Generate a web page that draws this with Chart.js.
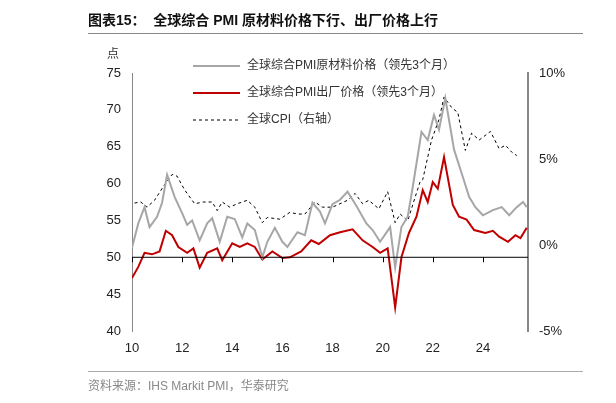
<!DOCTYPE html>
<html><head><meta charset="utf-8">
<script src="https://cdn.jsdelivr.net/npm/chart.js@4"></script>
<style>
body{margin:0;background:#fff;width:616px;height:403px;overflow:hidden;position:relative;font-family:"Liberation Sans","Noto Sans CJK SC",sans-serif}
#t{position:absolute;left:88px;top:9px;font-size:14px;font-weight:bold;color:#111;font-family:"Liberation Sans","Noto Sans CJK SC"}
#l1{position:absolute;left:88px;top:33px;width:495px;height:1px;background:#888}
#l2{position:absolute;left:88px;top:371px;width:495px;height:1px;background:#aaa}
#s{position:absolute;left:88px;top:376px;font-size:12px;color:#888}
canvas{position:absolute;left:0;top:0}
</style></head><body>
<canvas id="c" width="616" height="403"></canvas>
<div id="t">图表15：&nbsp;&nbsp;全球综合 PMI 原材料价格下行、出厂价格上行</div>
<div id="l1"></div><div id="l2"></div>
<div id="s">资料来源：IHS Markit PMI，华泰研究</div>
<script>
const rawX=[2010.0,2010.25,2010.5,2010.7,2011.0,2011.2,2011.4,2011.7,2012.0,2012.2,2012.4,2012.7,2013.0,2013.2,2013.5,2013.8,2014.1,2014.4,2014.6,2014.9,2015.2,2015.4,2015.7,2016.0,2016.2,2016.6,2016.9,2017.2,2017.5,2017.7,2018.0,2018.3,2018.6,2018.95,2019.35,2019.6,2019.9,2020.3,2020.5,2020.75,2021.0,2021.2,2021.55,2021.8,2022.05,2022.25,2022.5,2022.85,2023.2,2023.45,2023.7,2024.0,2024.4,2024.75,2025.05,2025.35,2025.6,2025.75];
const rawY=[51.3,54.6,56.8,54.1,55.5,57.4,61.2,58.2,56.0,54.4,55.0,52.3,54.6,55.3,52.1,55.5,55.2,52.7,54.6,53.7,50.0,52.1,54.0,52.1,51.4,53.4,53.0,57.4,56.2,54.6,57.2,57.8,58.9,57.0,54.6,53.7,52.1,54.1,48.6,54.1,55.5,59.5,67.0,65.9,69.3,67.3,71.6,64.6,60.9,58.2,56.8,55.7,56.4,56.8,55.7,56.8,57.5,56.8];
const outX=[2010.0,2010.25,2010.5,2010.8,2011.1,2011.35,2011.6,2011.85,2012.2,2012.45,2012.7,2013.0,2013.4,2013.6,2014.0,2014.3,2014.6,2014.9,2015.2,2015.6,2016.0,2016.3,2016.75,2017.15,2017.45,2017.9,2018.3,2018.8,2019.2,2019.6,2019.9,2020.2,2020.5,2020.75,2021.05,2021.35,2021.6,2021.8,2022.0,2022.2,2022.45,2022.8,2023.05,2023.35,2023.65,2024.1,2024.4,2024.65,2025.0,2025.3,2025.5,2025.75];
const outY=[47.2,48.7,50.6,50.4,50.8,53.6,53.0,51.4,50.6,51.2,48.6,50.6,51.2,49.6,51.9,51.4,51.9,51.4,49.7,50.8,49.9,50.0,50.8,52.3,51.8,53.0,53.4,53.8,52.3,51.4,50.6,51.2,43.2,50.0,53.3,55.5,59.1,57.5,60.2,59.3,63.6,57.1,55.5,55.1,53.7,53.3,53.6,52.8,52.1,53.0,52.6,54.0];
const cpiX=[2010.1,2010.35,2010.6,2010.9,2011.25,2011.6,2011.8,2012.1,2012.5,2012.85,2013.2,2013.4,2013.6,2013.9,2014.2,2014.6,2014.9,2015.2,2015.4,2015.9,2016.3,2016.6,2016.9,2017.3,2017.6,2018.0,2018.3,2018.6,2018.9,2019.2,2019.45,2019.85,2020.2,2020.5,2020.7,2021.0,2021.3,2021.5,2021.6,2021.95,2022.25,2022.45,2022.75,2023.0,2023.3,2023.55,2023.85,2024.3,2024.65,2024.9,2025.15,2025.35];
const cpiY=[2.44,2.5,2.2,2.6,3.4,4.1,4.0,3.2,2.4,2.5,2.5,2.0,2.5,2.2,2.4,2.6,2.2,1.3,1.6,1.5,1.9,1.8,1.8,2.5,2.2,2.2,2.4,2.6,3.0,2.4,2.6,2.1,3.1,1.3,1.8,1.4,2.8,3.7,3.8,6.1,7.3,8.6,8.0,7.7,5.5,6.5,6.1,6.6,5.6,5.8,5.4,5.2];
const xTicks=[2010,2012,2014,2016,2018,2020,2022,2024];
const labels=['全球综合PMI原材料价格（领先3个月）','全球综合PMI出厂价格（领先3个月）','全球CPI（右轴）'];
const pts=(xs,ys)=>xs.map((x,i)=>({x,y:ys[i]}));
const font={family:"'Liberation Sans','Noto Sans CJK SC'",size:13};
const overlay={id:'ov',afterDatasetsDraw(ch){
  const c=ch.ctx,x=ch.scales.x,y=ch.scales.y;
  const y50=y.getPixelForValue(50);
  c.save();c.strokeStyle='#000';c.lineWidth=1;
  c.beginPath();c.moveTo(x.left,y50);c.lineTo(x.right,y50);
  xTicks.forEach(t=>{const px=Math.round(x.getPixelForValue(t))+.5;c.moveTo(px,y50);c.lineTo(px,y50+5);});
  c.stroke();
  c.font="12px 'Liberation Sans','Noto Sans CJK SC'";c.fillStyle='#333';c.textBaseline='middle';
  c.fillText('点',107,55);
  ch.data.datasets.forEach((d,i)=>{const yy=66+i*27;c.strokeStyle=d.borderColor;c.lineWidth=d.borderWidth;c.setLineDash(d.borderDash||[]);
    c.beginPath();c.moveTo(193,yy);c.lineTo(240,yy);c.stroke();c.setLineDash([]);c.fillStyle='#333';c.fillText(d.label,247,yy);});
  c.restore();}};
new Chart(document.getElementById('c'),{type:'line',
 data:{datasets:[
  {label:labels[0],data:pts(rawX,rawY),borderColor:'#a6a6a6',borderWidth:2,yAxisID:'y'},
  {label:labels[1],data:pts(outX,outY),borderColor:'#c00000',borderWidth:2,yAxisID:'y'},
  {label:labels[2],data:pts(cpiX,cpiY),borderColor:'#000',borderWidth:1,borderDash:[3,3],yAxisID:'y1'}]},
 options:{responsive:false,animation:false,events:[],
  elements:{point:{radius:0},line:{tension:0}},
  layout:{padding:{top:73,left:0,right:0,bottom:0}},
  plugins:{legend:{display:false},tooltip:{enabled:false}},
  scales:{
   x:{type:'linear',min:2010,max:2025.8,afterFit(s){s.height=72},
     afterBuildTicks(s){s.ticks=xTicks.map(v=>({value:v}))},
     grid:{display:false,drawTicks:false},border:{display:false},
     ticks:{padding:10,color:'#222',font,callback:v=>String(v%100).padStart(2,'0'),maxRotation:0}},
   y:{min:40,max:75,afterFit(s){s.width=132},
     ticks:{stepSize:5,color:'#222',font,padding:6},
     grid:{display:false,drawTicks:true,tickLength:5,tickColor:'#888',drawOnChartArea:false},
     border:{color:'#888',width:1}},
   y1:{position:'right',min:-5,max:10,afterFit(s){s.width=88},
     ticks:{stepSize:5,color:'#222',font,padding:6,callback:v=>v+'%'},
     grid:{display:false,drawTicks:true,tickLength:5,tickColor:'#888',drawOnChartArea:false},
     border:{color:'#888',width:2}}}},
 plugins:[overlay]});
</script></body></html>
